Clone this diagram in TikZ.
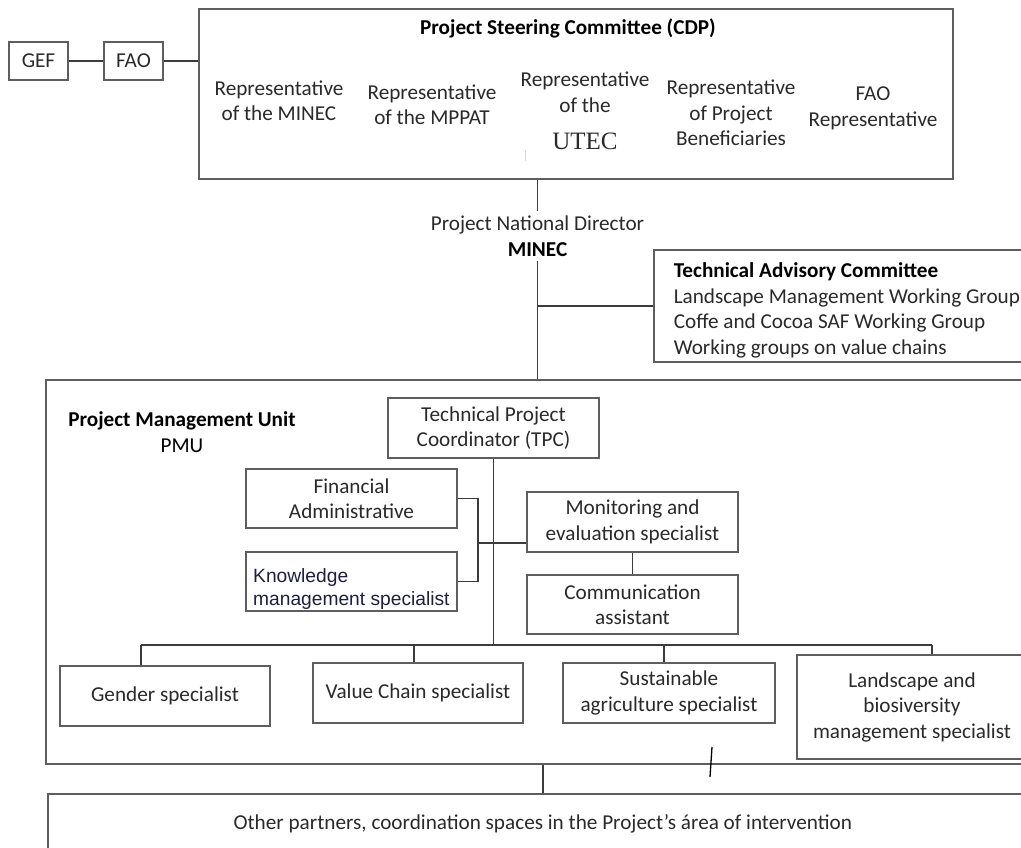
\documentclass[tikz,border=0pt]{standalone}
\usepackage{fontspec}
\setmainfont{Carlito}
\newfontfamily\arialfont{Liberation Sans}
\newfontfamily\timesfont{Liberation Serif}
\usetikzlibrary{calc}
\definecolor{boxline}{HTML}{5E5E5E}
\definecolor{wire}{HTML}{3C3C3C}
\definecolor{txt}{HTML}{2A2A2A}
\definecolor{navytxt}{HTML}{1E1E40}

\tikzset{
  plaintext/.style={font=\fontsize{21.2}{25.5}\selectfont, text=txt},
  orgbox/.style={draw=boxline, line width=1.6pt, inner sep=0pt, align=center, plaintext},
  caption/.style={plaintext, align=center, inner sep=0pt},
  wirestyle/.style={draw=wire, line width=1.8pt},
}

\begin{document}
\begin{tikzpicture}[x=1pt,y=-1pt]
\useasboundingbox (0,0) rectangle (1021,848);
\fill[white] (0,0) rectangle (1021,848);
\clip (0,0) rectangle (1021,848);

% --- funding chain and steering committee ---
\node[orgbox, minimum width=59pt, minimum height=38pt] (gef) at (38.5,61) {GEF};
\node[orgbox, minimum width=59pt, minimum height=38pt] (fao) at (133.5,61) {FAO};
\node[orgbox, minimum width=754pt, minimum height=170pt] (cdp) at (576,94) {};
\node[caption, text=black] (cdptitle) at (568,28) {\bfseries Project Steering Committee (CDP)};
\node[caption] (rminec) at (279,100.5) {Representative\\of the MINEC};
\node[caption] (rmppat) at (432,104.5) {Representative\\of the MPPAT};
\node[caption] (rutec) at (585,111) {Representative\\of the\\[12pt]{\timesfont\fontsize{25}{25.5}\selectfont UTEC}};
\node[caption] (rbenef) at (731,113) {Representative\\of Project\\Beneficiaries};
\node[caption] (rfao) at (873,108.5) {FAO\\Representative};

% --- national director and advisory committee ---
\node[caption, inner sep=5pt] (ndir) at (537.5,236) {Project National Director\\{\bfseries\color{black}MINEC}};
\node[orgbox, anchor=north west, minimum height=112pt, text width=360pt,
      inner xsep=20pt, align=flush left] (tac) at (653,249)
  {\rule{0pt}{24pt}{\bfseries\color{black}Technical Advisory Committee}\\Landscape Management Working Group\\Coffe and Cocoa SAF Working Group\\Working groups on value chains};

% --- project management unit ---
\node[orgbox, anchor=north west, minimum width=1000pt, minimum height=384pt] (pmu) at (45,379) {};
\node[caption, text=black] (pmutitle) at (182,432) {\bfseries Project Management Unit\\PMU};

\node[orgbox, minimum width=211pt, minimum height=60pt] (tpc) at (493.5,428) {Technical Project\\Coordinator (TPC)};
\node[orgbox, minimum width=211pt, minimum height=59pt] (fin) at (351.5,498.5) {Financial\\Administrative};
\node[orgbox, minimum width=211pt, minimum height=59pt] (know) at (351.5,581.5) {};
\node[caption, anchor=west, align=flush left, font=\arialfont\fontsize{19.2}{23}\selectfont,
      text=navytxt] (knowtext) at (253,589) {Knowledge\\management specialist};
\node[orgbox, minimum width=211pt, minimum height=60pt] (me) at (632.5,522) {Monitoring and\\evaluation specialist};
\node[orgbox, minimum width=211pt, minimum height=59pt] (comm) at (632.5,604.5) {Communication\\assistant};

\node[orgbox, minimum width=210pt, minimum height=60pt] (gender) at (165,696) {Gender specialist};
\node[orgbox, minimum width=210pt, minimum height=60pt] (vc) at (418,693) {Value Chain specialist};
\node[orgbox, minimum width=212pt, minimum height=60pt] (sust) at (669,693) {Sustainable\\agriculture specialist};
\node[orgbox, minimum width=230pt, minimum height=104pt] (land) at (912,707) {Landscape and\\biosiversity\\management specialist};

% --- partners ---
\node[orgbox, anchor=north west, minimum width=990pt, minimum height=60pt] (other) at (47,793)
  {Other partners, coordination spaces in the Project’s área of intervention};

% --- connectors ---
\draw[wirestyle] (gef.east) -- (fao.east -| fao.west);
\draw[wirestyle] (fao.east) -- (fao.east -| cdp.west);
\draw[wirestyle] (cdp.south -| ndir.north) -- (ndir.north);
\draw[wirestyle] (ndir.south) -- (ndir.south |- pmu.north);
\draw[wirestyle] (ndir.south |- tac.west) -- (tac.west);

\coordinate (dg) at (141,645);
\coordinate (dv) at (414,645);
\coordinate (ds) at (664,645);
\coordinate (dl) at (932,645);
\draw[wirestyle] (tpc.south) -- (tpc.south |- dg);
\draw[wirestyle] (dg) -- (dl);
\draw[wirestyle] (dg) -- (dg |- gender.north);
\draw[wirestyle] (dv) -- (dv |- vc.north);
\draw[wirestyle] (ds) -- (ds |- sust.north);
\draw[wirestyle] (dl) -- (dl |- land.north);

\coordinate (brk) at (478,543);
\draw[wirestyle] (fin.east) -| (brk) |- (know.east);
\draw[wirestyle] (brk) -- (brk -| me.west);
\draw[wirestyle] (me.south) -- (comm.north);
\draw[wirestyle] (other.north |- pmu.south) -- (other.north);

% --- loose strokes ---
\draw[black, line width=1.3pt] (712,747) -- (710,777);
\draw[gray!30, line width=1pt] (525,150) -- (525,161);
\end{tikzpicture}
\end{document}
